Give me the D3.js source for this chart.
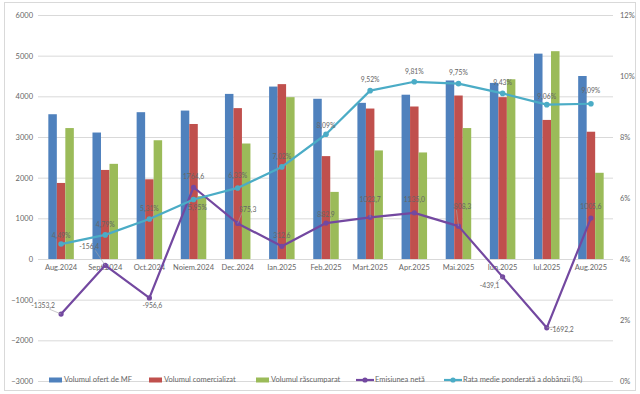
<!DOCTYPE html>
<html>
<head>
<meta charset="utf-8">
<script src="https://cdn.jsdelivr.net/npm/d3@7"></script>
<style>
  body { margin: 0; background: #fff; }
  svg text { font-family: Lato, "Open Sans", sans-serif; fill: #666; }
</style>
</head>
<body>
<svg id="chart" width="640" height="394"></svg>
<script>
const months = ['Aug.2024', 'Sept.2024', 'Oct.2024', 'Noiem.2024', 'Dec.2024', 'Ian.2025', 'Feb.2025',
  'Mart.2025', 'Apr.2025', 'Mai.2025', 'Iun.2025', 'Iul.2025', 'Aug.2025']
const oferit = [3560, 3110, 3610, 3650, 4060, 4240, 3940, 3840, 4040, 4390, 4330, 5050, 4500]
const comercializat = [1870, 2190, 1960, 3320, 3710, 4300, 2530, 3700, 3750, 4020, 3980, 3420, 3130]
const rascumparat = [3220, 2340, 2920, 1545, 2840, 3980, 1650, 2670, 2620, 3220, 4420, 5110, 2120]
const emisiunea = [-1353.2, -156.4, -956.6, 1764.6, 875.3, 312.6, 882.9, 1023.7, 1135.0, 808.3, -439.1, -1692.2, 1005.6]
const rata = [4.49, 4.79, 5.31, 5.95, 6.33, 7.02, 8.09, 9.52, 9.81, 9.75, 9.43, 9.06, 9.09]
const leftTicks = [-3000, -2000, -1000, 0, 1000, 2000, 3000, 4000, 5000, 6000]
const rightTicks = [0, 2, 4, 6, 8, 10, 12]

// label nudges (dx, dy) relative to the point, like the hand-placed excel labels
const rataLabelPos = [[0, -8], [0, -10], [0, -10], [4, 9], [0, -12], [0, -10], [0, -8], [0, -10], [0, -10], [0, -10], [0, -10], [0, -7], [0, -12]]
const emisLabelPos = [[-18, -8], [-16, -18], [3, 8], [0, -10], [10, -13], [0, -10], [0, -8], [0, -17], [0, -13], [4, -19], [-13, 9], [15, 2], [0, -11]]

const colors = { oferit: '#4F81BD', comercializat: '#C0504D', rascumparat: '#9BBB59', emisiunea: '#7348A0', rata: '#4BACC6' }

const svg = d3.select('#chart')

svg.append('rect')
  .attr('x', 4.5).attr('y', 2.5).attr('width', 631).attr('height', 388)
  .attr('fill', '#fff').attr('stroke', '#D9D9D9')

const x = d3.scaleBand().domain(months).range([39, 613])
const yL = d3.scaleLinear().domain([-3000, 6000]).range([381, 15])
const yR = d3.scaleLinear().domain([0, 12]).range([381, 15])

const bw = x.bandwidth()
const groupW = 25.5
const xSub = d3.scaleBand().domain(['oferit', 'comercializat', 'rascumparat'])
  .range([(bw - groupW) / 2, (bw + groupW) / 2])

// gridlines
svg.append('g').selectAll('line')
  .data(leftTicks)
  .enter().append('line')
  .attr('x1', 38).attr('x2', 613)
  .attr('y1', d => yL(d) + 0.5).attr('y2', d => yL(d) + 0.5)
  .attr('stroke', '#D9D9D9').attr('stroke-width', 1)

const leftAxis = svg.append('g')
  .attr('transform', 'translate(33,0)')
  .call(d3.axisLeft(yL).tickValues(leftTicks).tickSize(0).tickPadding(0).tickFormat(d3.format('d')))
leftAxis.select('.domain').remove()
leftAxis.selectAll('text').style('font-size', '7.5px').attr('fill', '#666')

const rightAxis = svg.append('g')
  .attr('transform', 'translate(620,0)')
  .call(d3.axisRight(yR).tickValues(rightTicks).tickSize(0).tickPadding(0).tickFormat(d => d + '%'))
rightAxis.select('.domain').remove()
rightAxis.selectAll('text').style('font-size', '7.5px').attr('fill', '#666')

// bars
const series = [['oferit', oferit], ['comercializat', comercializat], ['rascumparat', rascumparat]]
series.forEach(([key, vals]) => {
  svg.append('g').selectAll('rect')
    .data(vals)
    .enter().append('rect')
    .attr('x', (d, i) => x(months[i]) + xSub(key))
    .attr('width', xSub.bandwidth())
    .attr('y', d => yL(d))
    .attr('height', d => yL(0) - yL(d))
    .attr('fill', colors[key])
})

const bottomAxis = svg.append('g')
  .attr('transform', `translate(0,${yL(0)})`)
  .call(d3.axisBottom(x).tickSize(0).tickPadding(6))
bottomAxis.select('.domain').remove()
bottomAxis.selectAll('text').style('font-size', '7.5px').attr('fill', '#666')

const cx = i => x(months[i]) + bw / 2
const fmt1 = d => d3.format('.1f')(d).replace('.', ',').replace('−', '-')
const fmt2 = d => d3.format('.2f')(d).replace('.', ',') + '%'

function drawLine(vals, yScale, color, r) {
  const line = d3.line().x((d, i) => cx(i)).y(d => yScale(d))
  svg.append('path')
    .datum(vals)
    .attr('d', line)
    .attr('fill', 'none')
    .attr('stroke', color)
    .attr('stroke-width', 2.2)
    .attr('stroke-linejoin', 'round')
  svg.append('g').selectAll('circle')
    .data(vals)
    .enter().append('circle')
    .attr('cx', (d, i) => cx(i))
    .attr('cy', d => yScale(d))
    .attr('r', r)
    .attr('fill', color)
}

function drawLabels(vals, yScale, pos, format) {
  const g = svg.append('g')
  vals.forEach((d, i) => {
    const px = cx(i), py = yScale(d)
    const lx = px + pos[i][0], ly = py + pos[i][1]
    if (Math.hypot(pos[i][0], pos[i][1]) > 13) {
      g.append('line')
        .attr('x1', px).attr('y1', py)
        .attr('x2', lx + (pos[i][0] < 0 ? 6 : pos[i][0] > 0 ? -6 : 0)).attr('y2', ly + (pos[i][1] < 0 ? 3 : -3))
        .attr('stroke', '#A6A6A6').attr('stroke-width', 0.6)
    }
    g.append('text')
      .attr('x', lx).attr('y', ly)
      .attr('text-anchor', 'middle')
      .attr('dominant-baseline', 'middle')
      .style('font-size', '6.8px')
      .text(format(d))
  })
}

drawLine(emisiunea, yL, colors.emisiunea, 2.6)
drawLine(rata, yR, colors.rata, 2.8)
drawLabels(emisiunea, yL, emisLabelPos, fmt1)
drawLabels(rata, yR, rataLabelPos, fmt2)

// legend
const legendY = 380
const legend = svg.append('g')
const legendItems = [
  { name: 'Volumul ofert de MF', type: 'rect', color: colors.oferit, x: 49 },
  { name: 'Volumul comercializat', type: 'rect', color: colors.comercializat, x: 149 },
  { name: 'Volumul răscumparat', type: 'rect', color: colors.rascumparat, x: 256 },
  { name: 'Emisiunea netă', type: 'line', color: colors.emisiunea, x: 356 },
  { name: 'Rata medie ponderată a dobânzii (%)', type: 'line', color: colors.rata, x: 444 }
]
legendItems.forEach(it => {
  if (it.type === 'rect') {
    legend.append('rect')
      .attr('x', it.x).attr('y', legendY - 2.5)
      .attr('width', 13).attr('height', 5)
      .attr('fill', it.color)
  } else {
    legend.append('line')
      .attr('x1', it.x).attr('x2', it.x + 18)
      .attr('y1', legendY).attr('y2', legendY)
      .attr('stroke', it.color).attr('stroke-width', 2.2)
    legend.append('circle')
      .attr('cx', it.x + 9).attr('cy', legendY).attr('r', 2.6)
      .attr('fill', it.color)
  }
  legend.append('text')
    .attr('x', it.x + (it.type === 'rect' ? 15 : 19))
    .attr('y', legendY)
    .attr('dominant-baseline', 'middle')
    .style('font-size', '7.5px')
    .text(it.name)
})
</script>
</body>
</html>
